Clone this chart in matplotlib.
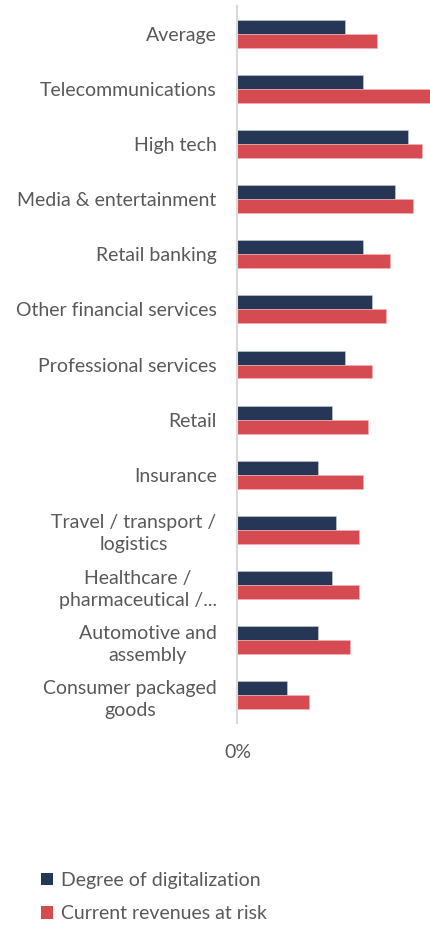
#!/usr/bin/env python3
"""Digitalization vs. revenues at risk by industry, grouped horizontal bars."""

import matplotlib.pyplot as plt
import numpy as np
from matplotlib.patches import Patch
from matplotlib.ticker import FuncFormatter

INDUSTRIES = [
    "Average",
    "Telecommunications",
    "High tech",
    "Media & entertainment",
    "Retail banking",
    "Other financial services",
    "Professional services",
    "Retail",
    "Insurance",
    "Travel / transport /\nlogistics",
    "Healthcare /\npharmaceutical /...",
    "Automotive and\nassembly",
    "Consumer packaged\ngoods",
]
DIGITALIZATION = [24, 28, 38, 35, 28, 30, 24, 21, 18, 22, 21, 18, 11]
REVENUES_AT_RISK = [31, 43, 41, 39, 34, 33, 30, 29, 28, 27, 27, 25, 16]

NAVY = "#263755"
RED = "#D64B51"
TEXT = "#595959"

plt.rcParams["font.family"] = ["Lato", "DejaVu Sans"]

fig = plt.figure(figsize=(4.31, 9.26), dpi=100)
ax = fig.add_axes([0.551, 0.2192, 0.449, 0.7743])

y = np.arange(len(INDUSTRIES))
h = 0.253
ax.barh(y - h / 2, DIGITALIZATION, height=h, color=NAVY, edgecolor="#c9cfda", linewidth=0.4)
ax.barh(y + h / 2, REVENUES_AT_RISK, height=h, color=RED, edgecolor="#f0b5b8", linewidth=0.4)

ax.set_xlim(0, 43)
ax.set_ylim(len(INDUSTRIES) - 0.5, -0.5)
ax.set_xticks([0])
ax.xaxis.set_major_formatter(FuncFormatter(lambda v, _: f"{v:.0f}%"))
ax.tick_params(axis="x", length=0, pad=15, labelsize=14, labelcolor=TEXT)

ax.set_yticks(y)
ax.set_yticklabels(INDUSTRIES, fontsize=14, color=TEXT, multialignment="center",
                   linespacing=1.35)
ax.tick_params(axis="y", length=0, pad=15)

for side in ["top", "right", "bottom"]:
    ax.spines[side].set_visible(False)
ax.spines["left"].set_color("#d9d9d9")
ax.spines["left"].set_linewidth(1.5)

handles = [
    Patch(facecolor=NAVY, label="Degree of digitalization"),
    Patch(facecolor=RED, label="Current revenues at risk"),
]
fig.legend(handles=handles, loc="lower left", bbox_to_anchor=(0.055, -0.015),
           frameon=False, fontsize=14, labelcolor=TEXT, handlelength=0.6,
           handleheight=0.6, handletextpad=0.4, labelspacing=0.85)

fig.savefig("out.png", dpi=100)
